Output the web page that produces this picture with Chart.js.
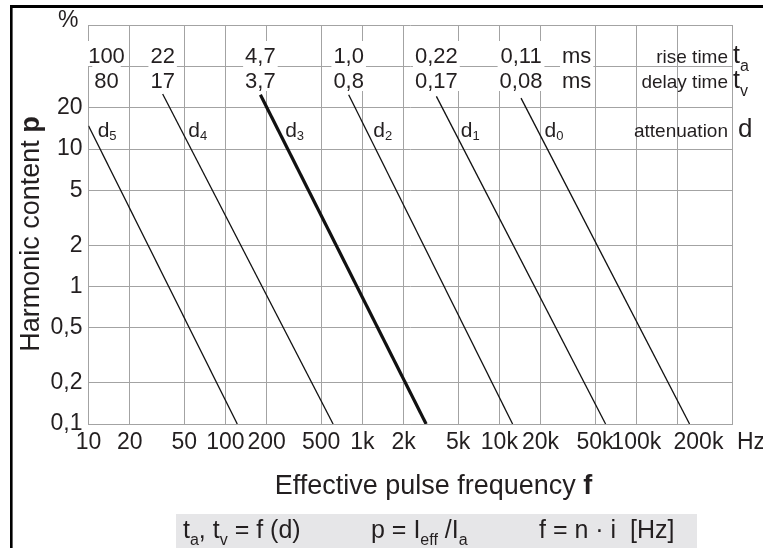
<!DOCTYPE html>
<html><head><meta charset="utf-8">
<style>html,body{margin:0;padding:0;background:#fff;overflow:hidden}</style>
<script src="https://cdn.jsdelivr.net/npm/chart.js@4.4.1/dist/chart.umd.min.js"></script>
</head><body>
<canvas id="c" width="763" height="548" style="display:block;width:763px;height:548px"></canvas>
<script>
// ---------- data ----------
const xTickValues = [10,20,50,100,200,500,1000,2000,5000,10000,20000,50000,100000,200000,500000];
const xTickLabels = ['10','20','50','100','200','500','1k','2k','5k','10k','20k','50k','100k','200k',''];
const yTickValues = [0.1,0.2,0.5,1,2,5,10,20,40,80];
const yTickLabels = ['0,1','0,2','0,5','1','2','5','10','20','',''];
const attenuation = ['5','4','3','2','1','0'];          // d subscripts
const startFreq = [10, 34.8, 180, 794, 3470, 14400];     // Hz
const startP    = [14.8, 25.2, 24.9, 24.9, 24.2, 23.5];  // %
const endFreq   = [122, 611, 2920, 12500, 59700, 245000];
const endP      = [0.1, 0.1, 0.1, 0.1, 0.1, 0.1];
const riseTime  = ['100','22','4,7','1,0','0,22','0,11'];
const delayTime = ['80','17','3,7','0,8','0,17','0,08'];

// ---------- style ----------
const FONT = '"Liberation Sans", Arial, Helvetica, sans-serif';
const TXT = '#231f20';
const GRID = '#a3a3a3';
const thickIndex = 2;

function subText(ctx, x, y, main, sub, fs, fsSub, drop, bold) {
  ctx.font = (bold ? 'bold ' : '') + fs + 'px ' + FONT;
  ctx.fillText(main, x, y);
  x += ctx.measureText(main).width;
  if (sub) {
    ctx.font = fsSub + 'px ' + FONT;
    ctx.fillText(sub, x, y + drop);
    x += ctx.measureText(sub).width;
  }
  return x;
}

const annot = {
  id: 'annot',
  beforeDraw(chart) {
    const ctx = chart.ctx;
    ctx.save(); ctx.fillStyle = '#fff'; ctx.fillRect(0, 0, chart.width, chart.height); ctx.restore();
  },
  afterDraw(chart) {
    const {ctx, chartArea: a, scales: {x, y}} = chart;
    ctx.save();
    // frame
    ctx.fillStyle = '#000';
    ctx.fillRect(10, 5, chart.width - 10, 3);
    ctx.fillRect(10, 5, 2.6, chart.height - 5);

    ctx.fillStyle = TXT;
    ctx.textBaseline = 'alphabetic';
    const r1 = a.top + 38, r2 = a.top + 63, r3 = a.top + 112;

    // rise / delay time numbers with white backing
    ctx.font = '22px ' + FONT;
    ctx.textAlign = 'center';
    for (let i = 0; i < riseTime.length; i++) {
      const cx = i === 0 ? a.left + 18 : x.getPixelForValue(startFreq[i]);
      [[riseTime[i], r1], [delayTime[i], r2]].forEach(([t, b]) => {
        const w = ctx.measureText(t).width;
        ctx.fillStyle = '#fff';
        ctx.fillRect(cx - w / 2 - 2, b - 22, w + 4, 25);
        ctx.fillStyle = TXT;
        ctx.fillText(t, cx, b);
      });
    }
    // ms
    const msX = x.getPixelForValue(startFreq[5]) + 41;
    ctx.textAlign = 'left';
    [r1, r2].forEach(b => {
      const w = ctx.measureText('ms').width;
      ctx.fillStyle = '#fff'; ctx.fillRect(msX - 2, b - 22, w + 4, 25);
      ctx.fillStyle = TXT; ctx.fillText('ms', msX, b);
    });

    // d labels: just right of each line at row 3
    const ymid = r3 - 7;
    for (let i = 0; i < attenuation.length; i++) {
      const x0 = x.getPixelForValue(startFreq[i]), y0 = y.getPixelForValue(startP[i]);
      const x1 = x.getPixelForValue(endFreq[i]), y1 = y.getPixelForValue(endP[i]);
      const lx = x0 + (x1 - x0) * (ymid - y0) / (y1 - y0);
      subText(ctx, lx + 7, r3, 'd', attenuation[i], 21, 13, 3);
    }

    // right-hand descriptions
    ctx.textAlign = 'right';
    ctx.font = '19px ' + FONT;
    ctx.fillText('rise time', a.right - 4, r1);
    ctx.fillText('delay time', a.right - 4, r2);
    ctx.fillText('attenuation', a.right - 4, r3);
    ctx.textAlign = 'left';
    subText(ctx, a.right + 1, r1, 't', 'a', 25, 16, 8);
    subText(ctx, a.right + 1, r2, 't', 'v', 25, 16, 8);
    ctx.font = '26px ' + FONT;
    ctx.fillText('d', a.right + 6, r3);

    // % and Hz units, shifted 200k label
    ctx.font = '23px ' + FONT;
    ctx.textBaseline = 'middle';
    ctx.textAlign = 'right';
    ctx.fillText('%', a.left - 10, a.top - 4.5);
    ctx.textAlign = 'left';
    const tickY = a.bottom + 5 + 23 * 1.2 / 2;
    ctx.fillText('Hz', a.right + 5, tickY);
    ctx.fillText('200k', x.getPixelForValue(200000) - 4, tickY);

    // axis titles
    ctx.textBaseline = 'alphabetic';
    ctx.font = '27px ' + FONT;
    const xt1 = 'Effective pulse frequency ';
    const w1 = ctx.measureText(xt1).width;
    ctx.font = 'bold 27px ' + FONT;
    const w2 = ctx.measureText('f').width;
    let sx = 433.5 - (w1 + w2) / 2;
    ctx.font = '27px ' + FONT; ctx.fillText(xt1, sx, 493.5);
    ctx.font = 'bold 27px ' + FONT; ctx.fillText('f', sx + w1, 493.5);

    ctx.save();
    ctx.translate(39, 234);
    ctx.rotate(-Math.PI / 2);
    ctx.font = '27px ' + FONT;
    const yt1 = 'Harmonic content ';
    const v1 = ctx.measureText(yt1).width;
    ctx.font = 'bold 27px ' + FONT;
    const v2 = ctx.measureText('p').width;
    const sy = -(v1 + v2) / 2;
    ctx.font = '27px ' + FONT; ctx.fillText(yt1, sy, 0);
    ctx.font = 'bold 27px ' + FONT; ctx.fillText('p', sy + v1, 0);
    ctx.restore();

    // formula box
    ctx.fillStyle = '#e6e6e8';
    ctx.fillRect(176, 514, 521, 40);
    ctx.fillStyle = TXT;
    const fb = 538, fs = 25, fsub = 16, dr = 7;
    let px = 183;
    px = subText(ctx, px, fb, 't', 'a', fs, fsub, dr);
    px = subText(ctx, px, fb, ', t', 'v', fs, fsub, dr);
    subText(ctx, px, fb, ' = f (d)', '', fs, fsub, dr);
    px = 371;
    px = subText(ctx, px, fb, 'p = I', 'eff', fs, fsub, dr);
    subText(ctx, px, fb, ' /I', 'a', fs, fsub, dr);
    subText(ctx, 539, fb, 'f = n \u00b7 i  [Hz]', '', fs, fsub, dr);
    ctx.restore();
  }
};

new Chart(document.getElementById('c'), {
  type: 'line',
  data: {
    datasets: attenuation.map((n, i) => ({
      label: 'd' + n,
      data: [{x: startFreq[i], y: startP[i]}, {x: endFreq[i], y: endP[i]}],
      borderColor: '#111',
      borderWidth: i === thickIndex ? 3.2 : 1.3,
      pointRadius: 0,
      fill: false,
      tension: 0
    }))
  },
  options: {
    responsive: false,
    animation: false,
    devicePixelRatio: 1,
    layout: {padding: {top: 25, right: 31, left: 0, bottom: 0}},
    plugins: {legend: {display: false}, tooltip: {enabled: false}},
    scales: {
      x: {
        type: 'logarithmic', min: 10, max: 500000,
        afterBuildTicks: s => { s.ticks = xTickValues.map(v => ({value: v})); },
        afterFit: s => { s.height = 124; },
        grid: {color: GRID, lineWidth: 1, drawTicks: false},
        border: {color: GRID},
        ticks: {
          autoSkip: false, maxRotation: 0, padding: 5, color: TXT,
          font: {family: FONT, size: 23},
          callback: (v, i, t) => { const k = xTickValues.indexOf(t[i].value); return (k >= 0 && xTickLabels[k] !== '200k') ? xTickLabels[k] : ''; }
        }
      },
      y: {
        type: 'logarithmic', min: 0.1, max: 80,
        afterBuildTicks: s => { s.ticks = yTickValues.map(v => ({value: v})); },
        afterFit: s => { s.width = 88.5; },
        grid: {color: GRID, lineWidth: 1, drawTicks: false},
        border: {color: GRID},
        ticks: {
          autoSkip: false, padding: 6, color: TXT,
          font: {family: FONT, size: 23},
          callback: (v, i, t) => { const k = yTickValues.indexOf(t[i].value); return k >= 0 ? yTickLabels[k] : ''; }
        }
      }
    }
  },
  plugins: [annot]
});
</script>
</body></html>
